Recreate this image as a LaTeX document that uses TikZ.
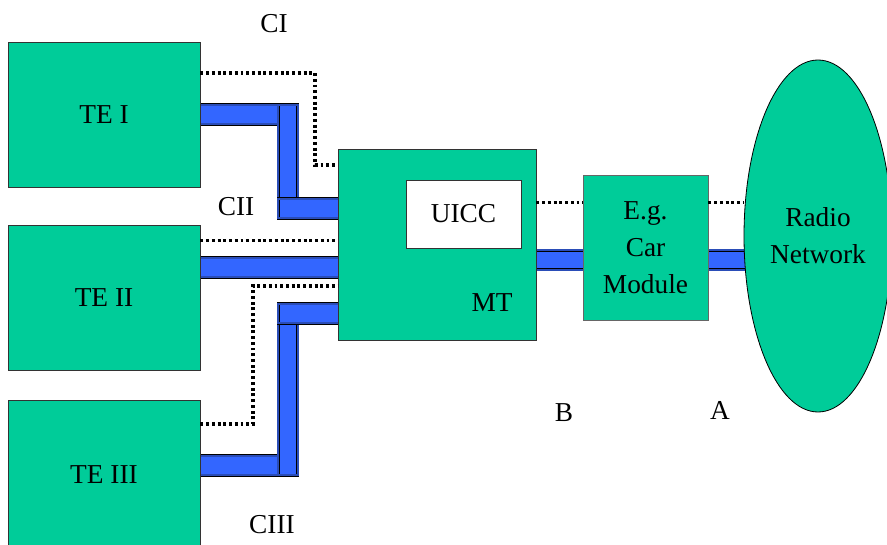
\documentclass[tikz,border=0pt]{standalone}
\usepackage{fontspec}
\setmainfont{Liberation Serif}
\usepackage{xcolor}
\usepackage{tikz}
\usetikzlibrary{shapes.geometric,backgrounds}

\definecolor{termgreen}{HTML}{00CC99}
\definecolor{cableblue}{HTML}{3366FF}
\definecolor{cabledark}{HTML}{2A4DB8}

\begin{document}
\begin{tikzpicture}[
  x=0.75pt, y=-0.75pt,
  font=\fontsize{20.5}{27.75}\selectfont,
  box/.style={draw=black!80, line width=0.6pt, fill=termgreen, inner sep=0pt, align=center},
  tebox/.style={box, minimum width=144pt, minimum height=108.75pt},
  cable/.style={line cap=rect, draw=black, line width=17pt,
    postaction={draw=cabledark, line cap=rect, line width=16pt},
    postaction={draw=black, line cap=rect, line width=13.4pt},
    postaction={draw=cableblue, line cap=rect, line width=12.6pt}},
  dotline/.style={line width=2.3pt, dash pattern=on 2.2pt off 2.1pt}
]
  \useasboundingbox (0,0) rectangle (887,545);

  % terminals
  \node[tebox] (te1) at (104,114.5) {TE I};
  \node[tebox] (te2) at (104,298) {TE II};
  \node[tebox, minimum height=112.5pt] (te3) at (104,475) {TE III};

  % mobile termination
  \node[box, minimum width=148.5pt, minimum height=143.25pt] (mt) at (437,244.5) {};
  \node[box, fill=white, minimum width=86.25pt, minimum height=51pt] (uicc) at (463.5,214) {UICC};
  \node (mtlabel) at (492,303) {MT};

  \node[box, draw=black!60, minimum width=93.75pt, minimum height=108.75pt] (car) at (645.5,247.5) {E.g.\\Car\\Module};
  \node[box, ellipse, draw=black, minimum width=111pt, minimum height=264pt] (radio) at (818,236) {Radio\\Network};

  % reference points
  \node (ci) at (274,24) {CI};
  \node (cii) at (236,207) {CII};
  \node (ciii) at (272,525) {CIII};
  \node (b) at (564,413) {B};
  \node (a) at (720,410) {A};

  % cables
  \coordinate (c1a) at (288,114.5);
  \coordinate (c1b) at (288,208.5);
  \coordinate (c2) at (250,267.5);
  \coordinate (c3a) at (288,465.5);
  \coordinate (c3b) at (288,313.5);
  \coordinate (c4) at (560,260);
  \begin{scope}[on background layer]
    \draw[cable] (te1.east |- c1a) -- (c1a);
    \draw[cable] (c1a) -- (c1b);
    \draw[cable] (c1b) -- (mt.west |- c1b);
    \draw[cable] (te2.east |- c2) -- (mt.west |- c2);
    \draw[cable] (te3.east |- c3a) -- (c3a);
    \draw[cable] (c3a) -- (c3b);
    \draw[cable] (c3b) -- (mt.west |- c3b);
    \draw[cable] (mt.east |- c4) -- (car.west |- c4);
    \draw[cable] (car.east |- c4) -- (radio.west |- c4);
  \end{scope}

  % dotted links
  \coordinate (d1a) at (315,73);
  \coordinate (d1b) at (315,165);
  \draw[dotline] (te1.east |- d1a) -- (d1a) -- (d1b) -- (mt.west |- d1b);
  \coordinate (d2) at ([yshift=-11.25pt]te2.north east);
  \draw[dotline] (d2) -- (d2 -| mt.west);
  \coordinate (d3a) at (253,424);
  \coordinate (d3b) at (253,286);
  \draw[dotline] (te3.east |- d3a) -- (d3a) -- (d3b) -- (mt.west |- d3b);
  \coordinate (d4) at ([yshift=-21pt]car.north west);
  \draw[dotline] (d4 -| mt.east) -- (d4);
  \draw[dotline] (d4 -| car.east) -- (d4 -| radio.west);
\end{tikzpicture}
\end{document}
